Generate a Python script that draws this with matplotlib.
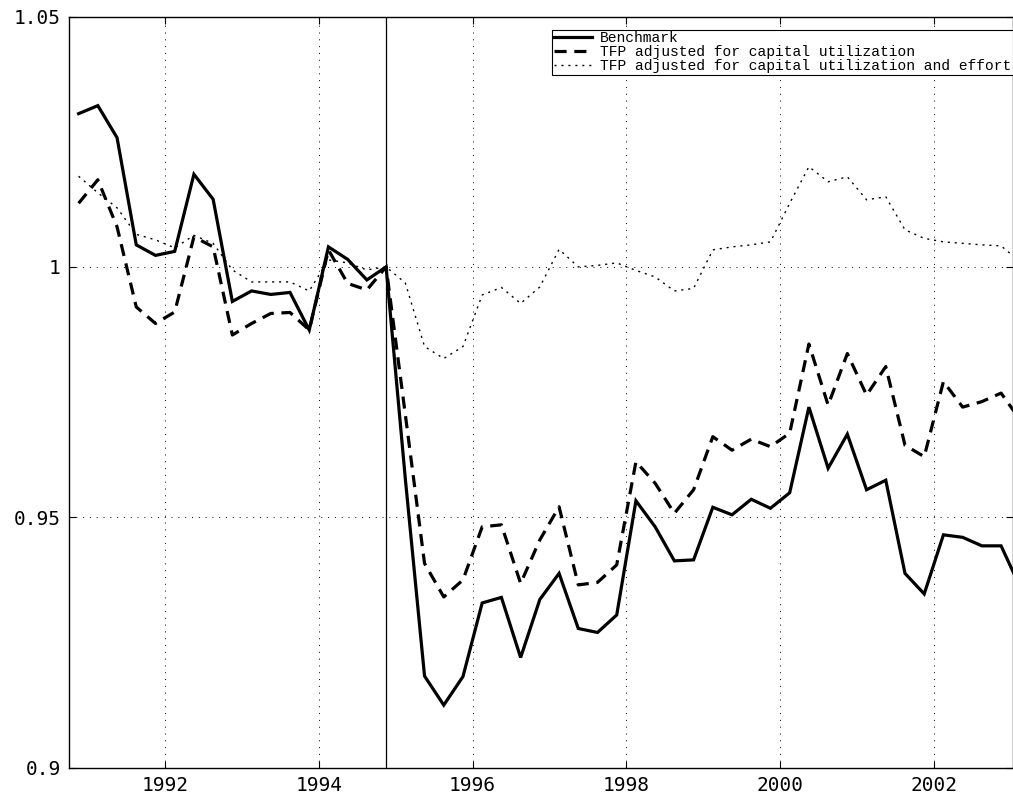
import numpy as np
import matplotlib
matplotlib.use("Agg")
import matplotlib.pyplot as plt
from matplotlib.ticker import FormatStrFormatter, FuncFormatter

# quarterly observations, 1990Q4 .. 2003Q1 (mid-quarter dates)
dates = 1990.875 + 0.25 * np.arange(50)

benchmark = [1.0306, 1.0322, 1.0258, 1.0044, 1.0023, 1.0031, 1.0185, 1.0135, 0.9931, 0.9952,
             0.9945, 0.9949, 0.9874, 1.0040, 1.0015, 0.9974, 1.0000, 0.9577, 0.9183, 0.9125,
             0.9182, 0.9329, 0.9340, 0.9220, 0.9336, 0.9388, 0.9278, 0.9270, 0.9305, 0.9533,
             0.9481, 0.9413, 0.9415, 0.9520, 0.9505, 0.9536, 0.9518, 0.9549, 0.9720, 0.9598,
             0.9666, 0.9555, 0.9574, 0.9388, 0.9347, 0.9465, 0.9460, 0.9443, 0.9443, 0.9360]

tfp_cu = [1.0127, 1.0174, 1.0080, 0.9920, 0.9887, 0.9910, 1.0060, 1.0040, 0.9864, 0.9887,
          0.9907, 0.9909, 0.9874, 1.0034, 0.9967, 0.9954, 1.0000, 0.9705, 0.9408, 0.9341,
          0.9375, 0.9481, 0.9485, 0.9368, 0.9455, 0.9521, 0.9365, 0.9370, 0.9405, 0.9611,
          0.9568, 0.9508, 0.9555, 0.9661, 0.9634, 0.9656, 0.9641, 0.9668, 0.9846, 0.9724,
          0.9827, 0.9744, 0.9801, 0.9644, 0.9621, 0.9771, 0.9720, 0.9731, 0.9748, 0.9694]

tfp_cu_effort = [1.0181, 1.0148, 1.0118, 1.0065, 1.0054, 1.0038, 1.0063, 1.0047, 0.9994, 0.9970,
                 0.9970, 0.9970, 0.9952, 1.0014, 1.0008, 0.9994, 1.0000, 0.9968, 0.9841, 0.9817,
                 0.9841, 0.9944, 0.9959, 0.9927, 0.9960, 1.0035, 1.0000, 1.0003, 1.0008, 0.9993,
                 0.9980, 0.9952, 0.9957, 1.0034, 1.0040, 1.0044, 1.0050, 1.0127, 1.0200, 1.0170,
                 1.0180, 1.0134, 1.0140, 1.0074, 1.0057, 1.0050, 1.0047, 1.0044, 1.0042, 1.0010]

break_date = 1994.875
labels = ['Benchmark',
          'TFP adjusted for capital utilization',
          'TFP adjusted for capital utilization and effort']

fig = plt.figure(figsize=(10.13, 8), dpi=100)
ax = fig.add_axes([69 / 1013, 1 - 767.7 / 800, 1 - 69 / 1013, (767.7 - 16.5) / 800])

ax.plot(dates, benchmark, color='k', lw=2.3, solid_joinstyle='miter', label=labels[0])
ax.plot(dates, tfp_cu, color='k', lw=2.3, linestyle=(0, (3.8, 2.4)), label=labels[1])
ax.plot(dates, tfp_cu_effort, color='k', lw=1.0, linestyle=(0, (1.5, 3.5)), label=labels[2])
ax.axvline(break_date, color='k', lw=0.9)

ax.set_xlim(1990.75, 2003.03)
ax.set_ylim(0.9, 1.05)
ax.set_xticks(np.arange(1992, 2003, 2))
ax.set_yticks([0.9, 0.95, 1.0, 1.05])
ax.yaxis.set_major_formatter(FuncFormatter(lambda v, p: '%g' % round(v, 4)))
ax.xaxis.set_major_formatter(FormatStrFormatter('%d'))

ax.grid(True, color='k', lw=0.7, linestyle=(0, (1, 6)))
ax.set_axisbelow(True)
ax.tick_params(direction='in', length=5, width=0.8, top=True, right=True,
               labelsize=14, pad=6)
for lab in ax.get_xticklabels() + ax.get_yticklabels():
    lab.set_family('DejaVu Sans Mono')
for s in ax.spines.values():
    s.set_linewidth(1.0)

leg = ax.legend(loc='upper right', bbox_to_anchor=(1.0, 1 - 13.5 / 751.2),
                prop={'family': 'Liberation Mono', 'size': 10.5},
                frameon=True, fancybox=False, framealpha=1, edgecolor='k',
                borderaxespad=0, borderpad=0.1, labelspacing=0.0,
                handlelength=2.6, handletextpad=0.6)
leg.get_frame().set_linewidth(0.8)

fig.savefig('out.png', dpi=100)
